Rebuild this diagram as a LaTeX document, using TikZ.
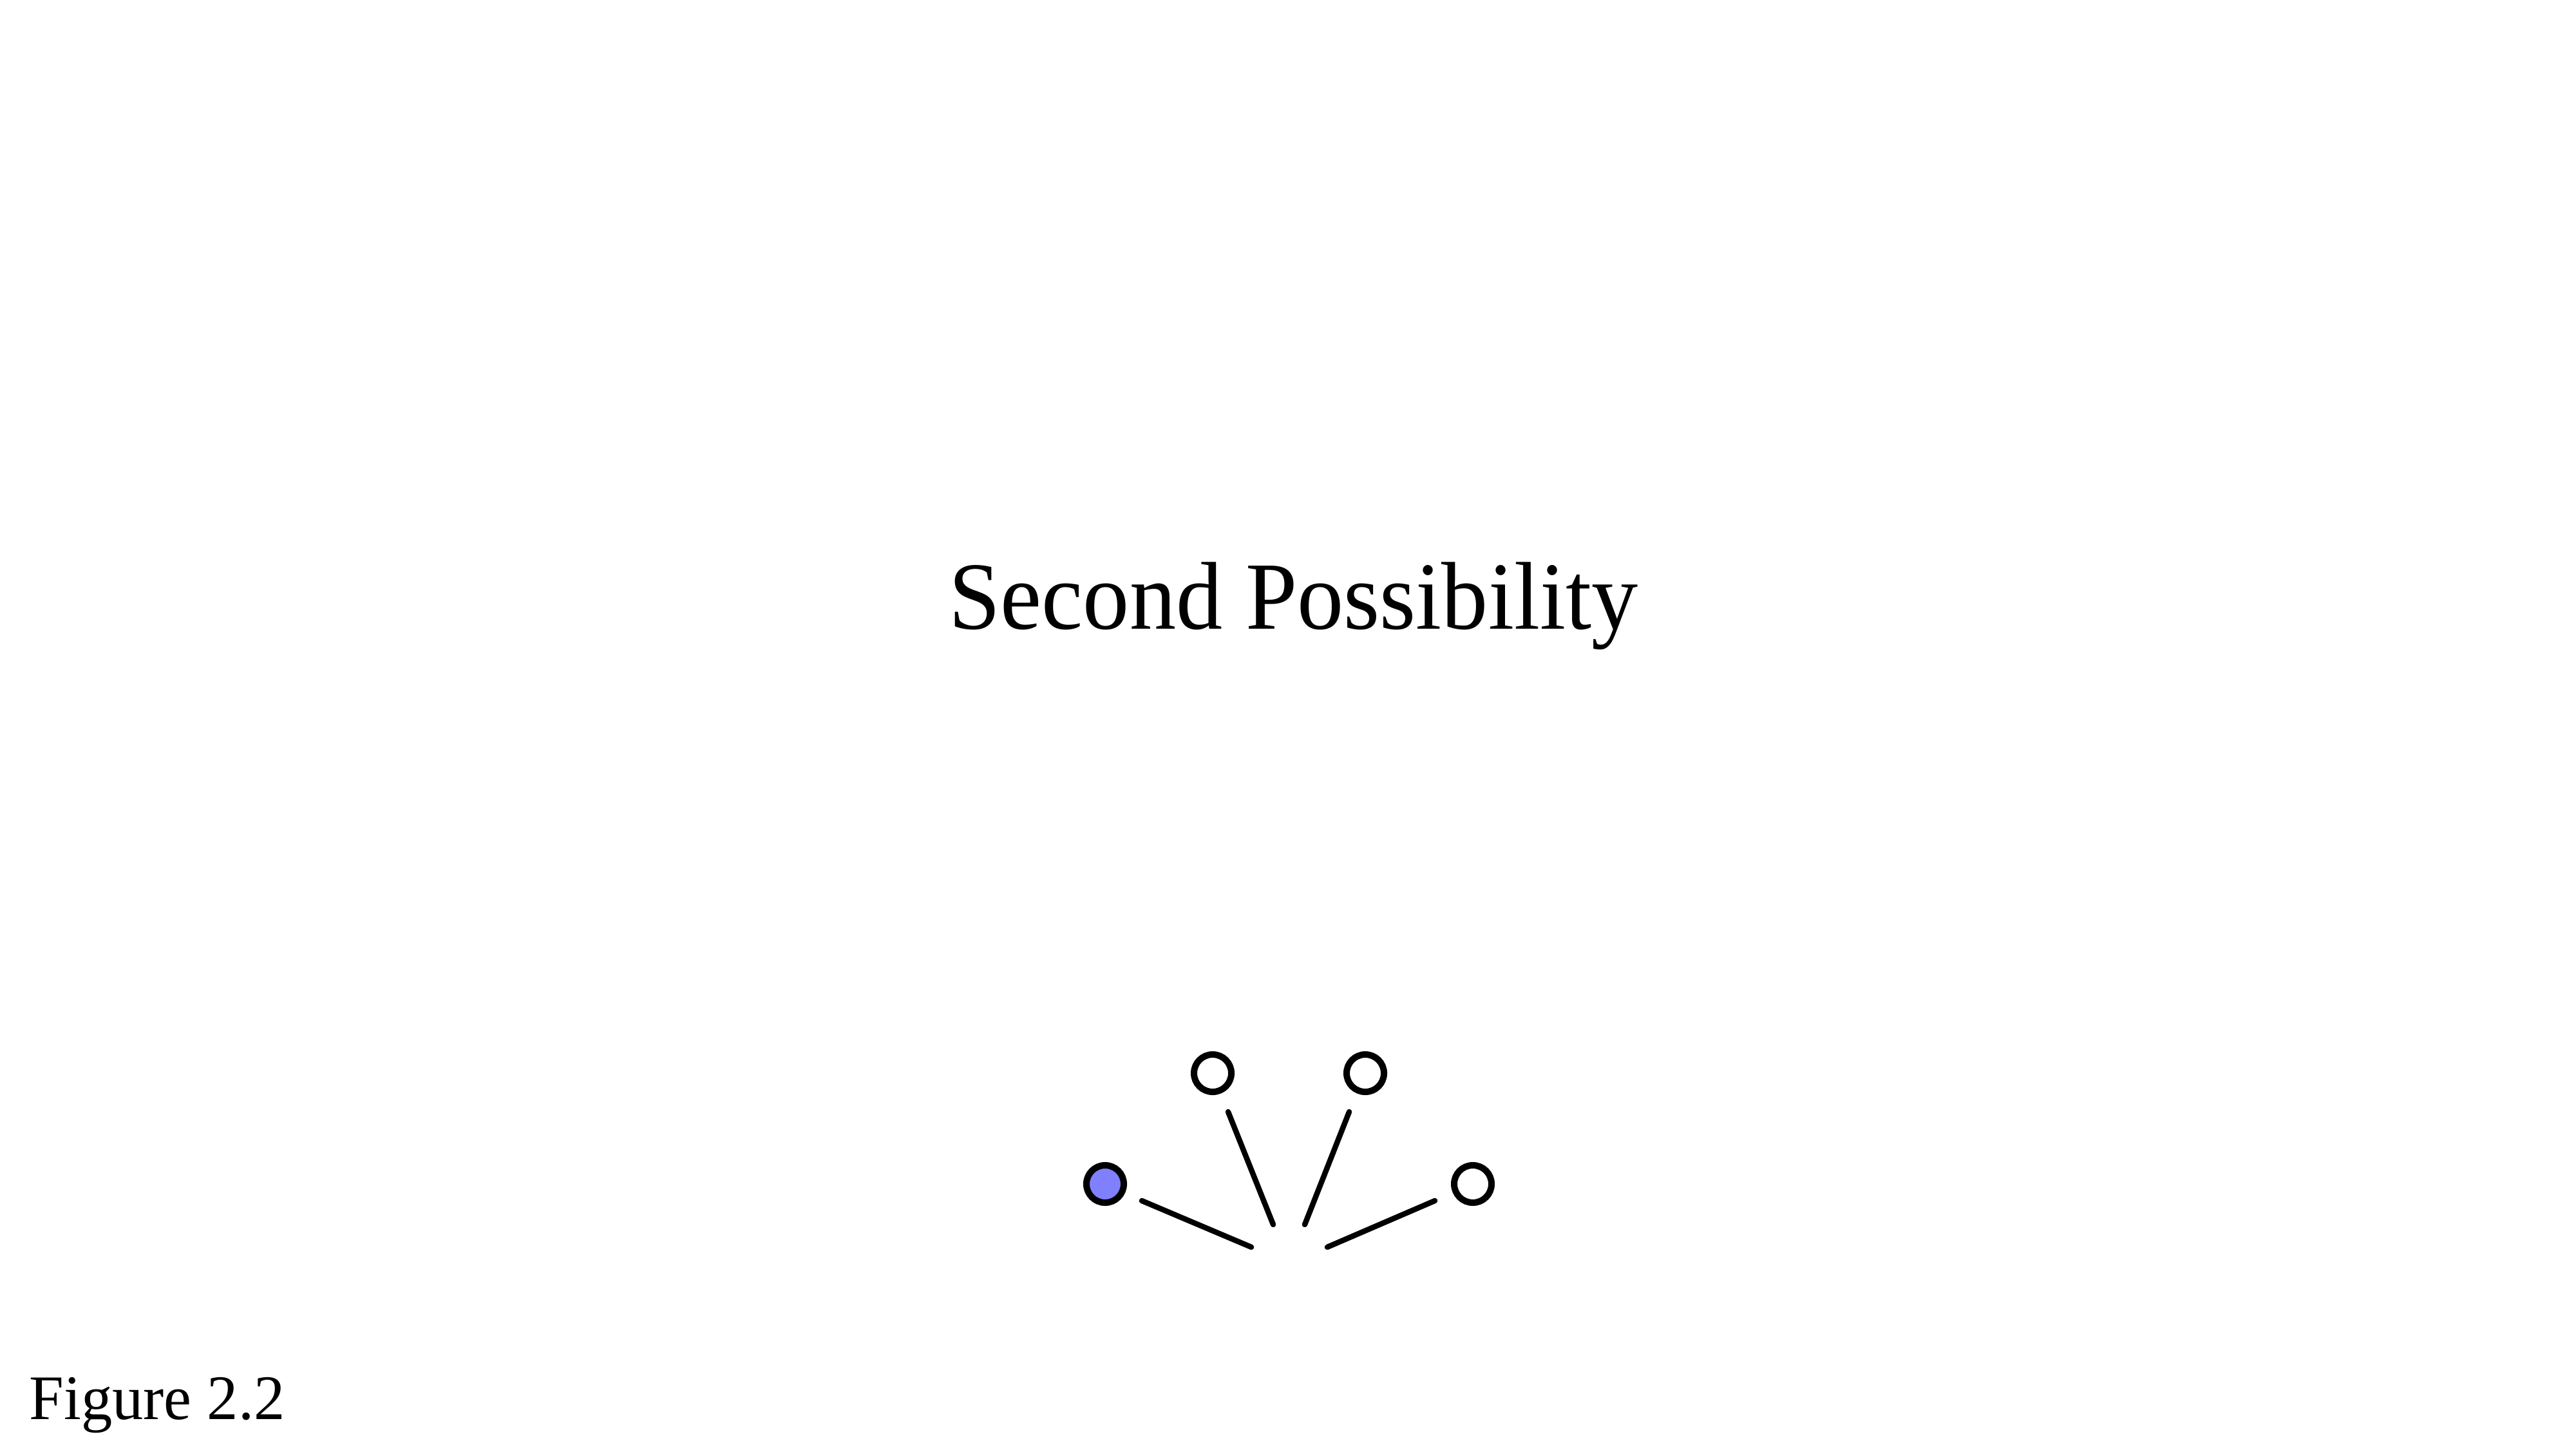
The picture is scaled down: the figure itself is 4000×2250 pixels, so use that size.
\documentclass[tikz,border=0pt]{standalone}
\usepackage{fontspec}
\setmainfont{Liberation Serif}
\usetikzlibrary{shapes.geometric}
\definecolor{nodeblue}{RGB}{128,128,255}
\tikzset{
  dot/.style={circle, draw=black, line width=2.85pt, minimum size=0.58cm, inner sep=0pt},
  seg/.style={draw=black, line width=2.4pt, line cap=round}
}
\begin{document}
\begin{tikzpicture}[x=0.01cm,y=-0.01cm]
\useasboundingbox (0,0) rectangle (4000,2250);
% title
\node[anchor=base west, inner sep=0pt, xscale=0.965, font=\fontsize{42.5}{46}\selectfont] (title) at (1473,976) {Second Possibility};
% caption
\node[anchor=base west, inner sep=0pt, xscale=0.98, font=\fontsize{28}{32}\selectfont] (caption) at (45,2203) {Figure 2.2};
% circles
\node[dot, fill=nodeblue] (a) at (1716,1838) {};
\node[dot, fill=white] (b) at (1883,1666) {};
\node[dot, fill=white] (c) at (2120,1666) {};
\node[dot, fill=white] (d) at (2287,1838) {};
% segment end points
\coordinate (a1) at (1773,1864);
\coordinate (a2) at (1943,1936);
\coordinate (b1) at (1907,1726);
\coordinate (b2) at (1977,1901);
\coordinate (c1) at (2095,1726);
\coordinate (c2) at (2026,1901);
\coordinate (d1) at (2228,1864);
\coordinate (d2) at (2061,1936);
\draw[seg] (a1) -- (a2);
\draw[seg] (b1) -- (b2);
\draw[seg] (c1) -- (c2);
\draw[seg] (d1) -- (d2);
\end{tikzpicture}
\end{document}
